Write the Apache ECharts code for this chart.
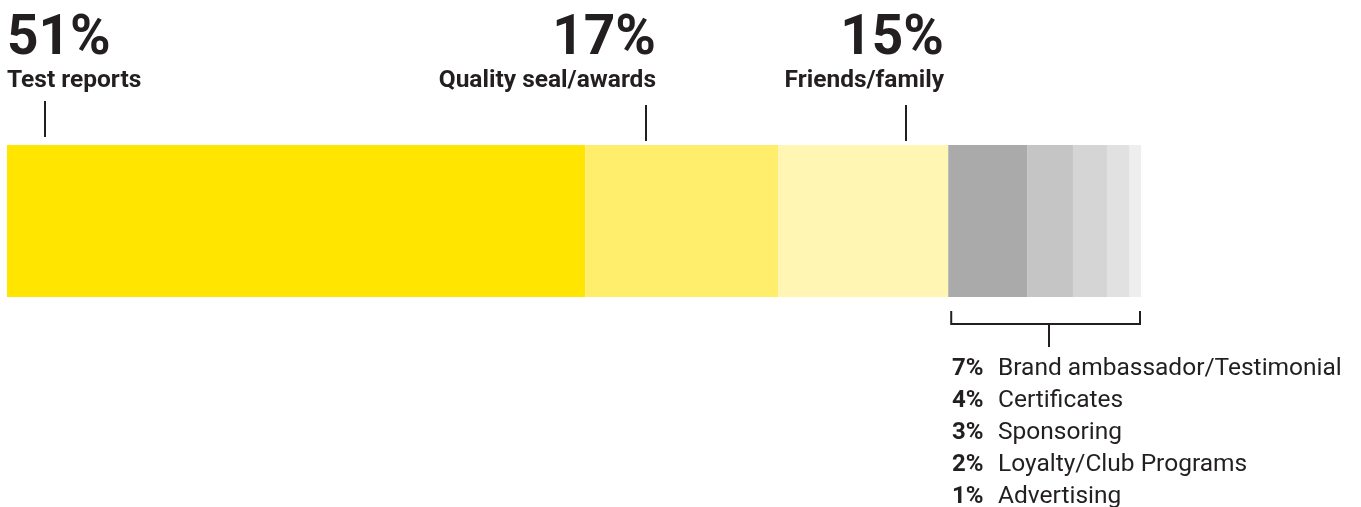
<!DOCTYPE html>
<html>
<head>
<meta charset="utf-8">
<script src="https://cdn.jsdelivr.net/npm/echarts@6/dist/echarts.min.js"></script>
<style>
  html, body { margin: 0; padding: 0; background: #fff; }
  #chart { width: 1361px; height: 507px; }
</style>
</head>
<body>
<div id="chart"></div>
<script>
const categories = ['Test reports', 'Quality seal/awards', 'Friends/family',
  'Brand ambassador/Testimonial', 'Certificates', 'Sponsoring',
  'Loyalty/Club Programs', 'Advertising']
const values = [51, 17, 15, 7, 4, 3, 2, 1]
const colors = ['#ffe500', '#ffee6b', '#fff6b4', '#aaaaaa', '#c5c5c5', '#d5d5d5', '#e1e1e1', '#eeeeee']

const ink = '#231f20'
const font = 'Roboto'

const chart = echarts.init(document.getElementById('chart'))

const series = categories.map((name, i) => ({
  name: name,
  type: 'bar',
  stack: 'total',
  barWidth: '100%',
  data: [values[i]],
  itemStyle: { color: colors[i] },
  silent: true
}))

chart.setOption({
  animation: false,
  grid: { left: 7, right: 220, top: 145, height: 152 },
  xAxis: { type: 'value', min: 0, max: 100, show: false },
  yAxis: { type: 'category', data: ['share'], show: false },
  series: series
})

// big callouts for the three leading categories
const callouts = [
  { idx: 0, x: 7, align: 'left', tick: 45 },
  { idx: 1, x: 656, align: 'right', tick: 646 },
  { idx: 2, x: 944, align: 'right', tick: 906 }
]

const graphic = []
callouts.forEach(c => {
  graphic.push({
    type: 'text', left: c.align === 'left' ? c.x : null, right: c.align === 'right' ? 1361 - c.x : null, top: 13,
    style: { text: values[c.idx] + '%', font: 'bold 55px ' + font, fill: ink }
  })
  graphic.push({
    type: 'text', left: c.align === 'left' ? c.x : null, right: c.align === 'right' ? 1361 - c.x : null, top: 68,
    style: { text: categories[c.idx], font: 'bold 24.5px ' + font, fill: ink }
  })
  const top = c.idx === 0 ? 101 : 105
  graphic.push({
    type: 'line', shape: { x1: c.tick, y1: top, x2: c.tick, y2: top + 36 },
    style: { stroke: ink, lineWidth: 2 }
  })
})

// bracket under the small grey categories
const start = values.slice(0, 3).reduce((a, b) => a + b, 0)
const x0 = chart.convertToPixel({ xAxisIndex: 0 }, start) + 3
const x1 = chart.convertToPixel({ xAxisIndex: 0 }, 100) - 1
const xm = Math.round(x0 + (x1 - x0) * 0.52)
graphic.push({
  type: 'polyline', shape: { points: [[x0, 311], [x0, 324], [x1, 324], [x1, 311]] },
  style: { stroke: ink, lineWidth: 2, fill: null }
})
graphic.push({
  type: 'line', shape: { x1: xm, y1: 324, x2: xm, y2: 347 },
  style: { stroke: ink, lineWidth: 2 }
})

// list of the small categories
for (let i = 3; i < categories.length; i++) {
  graphic.push({
    type: 'text', left: 952, top: 356 + (i - 3) * 32,
    style: {
      text: '{v|' + values[i] + '%}{n|' + categories[i] + '}',
      rich: {
        v: { font: 'bold 24px ' + font, fill: ink, width: 46 },
        n: { font: '24.5px ' + font, fill: ink }
      }
    }
  })
}

chart.setOption({ graphic: graphic })
</script>
</body>
</html>
